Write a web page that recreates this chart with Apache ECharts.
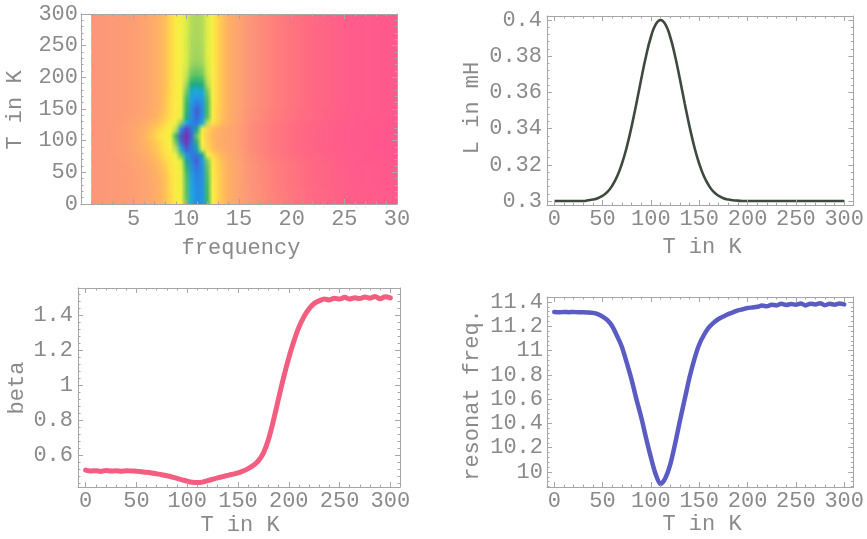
<!DOCTYPE html>
<html><head><meta charset="utf-8">
<script src="https://cdn.jsdelivr.net/npm/echarts@6/dist/echarts.min.js"></script>
<style>html,body{margin:0;padding:0;background:#fff}#c{width:867px;height:539px}</style>
</head><body><div id="c"></div>
<script>
// ---------------- DATA ----------------
const temps = [0,5,10,15,20,25,30,35,40,45,50,55,60,65,70,75,80,85,90,95,100,105,110,115,120,125,130,135,140,145,150,155,160,165,170,175,180,185,190,195,200,205,210,215,220,225,230,235,240,245,250,255,260,265,270,275,280,285,290,295,300];

const inductance = [0.3,0.3,0.3,0.3,0.3,0.3,0.3,0.3004,0.3008,0.3015,0.3029,0.305,0.3085,0.3135,0.3206,0.3298,0.3411,0.3539,0.3674,0.3801,0.3906,0.3976,0.4,0.3976,0.3906,0.3801,0.3674,0.3539,0.3411,0.3298,0.3206,0.3135,0.3085,0.305,0.3029,0.3015,0.3008,0.3004,0.3002,0.3,0.3,0.3,0.3,0.3,0.3,0.3,0.3,0.3,0.3,0.3,0.3,0.3,0.3,0.3,0.3,0.3,0.3,0.3,0.3,0.3,0.3];

const beta = [0.515,0.51,0.512,0.508,0.513,0.51,0.511,0.509,0.512,0.51,0.509,0.506,0.503,0.499,0.494,0.489,0.483,0.476,0.468,0.46,0.452,0.446,0.444,0.447,0.455,0.463,0.471,0.478,0.485,0.492,0.499,0.51,0.524,0.542,0.568,0.612,0.69,0.8,0.925,1.045,1.155,1.25,1.33,1.39,1.435,1.465,1.48,1.49,1.485,1.495,1.49,1.5,1.49,1.497,1.493,1.502,1.495,1.505,1.492,1.503,1.497];

const resonFreq = [11.318,11.315,11.318,11.316,11.318,11.315,11.316,11.314,11.31,11.30,11.28,11.25,11.20,11.12,11.03,10.90,10.76,10.60,10.45,10.28,10.12,9.98,9.90,9.95,10.06,10.23,10.42,10.60,10.78,10.93,11.05,11.13,11.19,11.23,11.26,11.28,11.30,11.315,11.33,11.34,11.35,11.355,11.36,11.37,11.365,11.378,11.372,11.385,11.375,11.383,11.378,11.388,11.372,11.386,11.38,11.39,11.374,11.385,11.378,11.388,11.38];

// density plot: rows = temperature, columns = frequency, value = hue angle (deg)
const heatFreq = [1,2,3,4,5,6,7,7.5,8,8.5,9,9.5,10,10.5,11,11.5,12,12.5,13,13.5,14,15,16,18,20,22,24,26,28,30];
const heatTemp = [0,10,20,30,40,50,60,70,80,90,100,110,120,130,140,150,160,170,180,190,200,210,220,230,240,250,260,270,280,290,300];
const heatHue = [
 [12,13,14,15,17,20, 25,29,35,46,55,60, 105,185,205,200,125, 58,44,35,28, 20,13,5,-2,-9,-15,-19,-21,-22],
 [12,13,14,15,17,20, 25,29,35,46,55,60, 108,188,207,202,122, 57,44,35,28, 20,13,5,-2,-9,-15,-19,-21,-22],
 [12,13,14,15,17,20, 25,29,35,46,55,61, 110,190,208,203,120, 57,44,35,28, 20,13,5,-2,-9,-15,-19,-21,-22],
 [12,13,14,15,17,20, 25,29,35,46,55,61, 110,192,210,204,118, 57,44,35,28, 20,12,4,-3,-10,-16,-20,-22,-23],
 [12,13,14,15,17,20, 26,30,36,47,56,62, 112,195,212,205,115, 56,44,35,28, 20,12,4,-3,-10,-16,-20,-22,-23],
 [12,13,14,15,17,21, 27,31,37,48,56,62, 115,198,215,205,112, 56,44,35,28, 20,12,4,-3,-10,-16,-20,-22,-23],
 [12,13,14,15,18,22, 28,33,40,50,57,64, 125,205,222,205,108, 55,43,34,27, 20,12,4,-3,-10,-16,-20,-22,-23],
 [12,13,14,16,19,23, 30,36,44,52,58,70, 145,212,235,200,100, 54,42,33,26, 19,11,3,-4,-11,-17,-21,-23,-24],
 [12,13,14,16,20,25, 33,40,48,55,62,105, 200,218,220,150,62, 46,36,30,25, 18,10,1,-6,-13,-18,-21,-23,-24],
 [12,13,15,17,21,27, 36,43,51,57,85,180, 238,218,160,65,45, 35,28,25,22, 17,9,0,-7,-14,-19,-22,-24,-25],
 [12,13,15,17,21,28, 38,45,53,60,105,225, 265,222,125,58,42, 33,27,24,22, 17,9,0,-7,-14,-19,-22,-24,-25],
 [12,13,15,18,22,29, 42,50,56,63,120,240, 270,228,105,55,40, 32,27,24,22, 17,9,0,-7,-14,-19,-22,-24,-25],
 [12,13,15,17,21,28, 38,46,52,58,80,205, 252,222,150,62,43, 34,28,25,22, 17,9,0,-7,-14,-19,-22,-24,-25],
 [12,13,14,16,20,25, 32,38,45,53,60,95, 190,212,218,185,82, 50,40,32,26, 18,10,1,-6,-13,-18,-21,-23,-24],
 [12,13,14,15,18,22, 28,33,40,48,55,65, 135,207,228,207,112, 56,43,34,27, 19,11,3,-4,-11,-17,-21,-23,-24],
 [12,13,14,15,17,21, 27,31,38,47,55,63, 125,207,236,208,115, 56,43,34,27, 19,11,3,-4,-11,-17,-20,-22,-23],
 [12,13,14,15,17,20, 26,30,37,47,55,62, 120,200,218,205,115, 56,44,35,28, 20,12,4,-3,-10,-16,-20,-22,-23],
 [12,13,14,15,17,20, 26,30,36,47,55,62, 115,195,202,196,110, 57,44,35,28, 20,12,4,-3,-10,-16,-20,-22,-23],
 [12,13,14,15,17,20, 26,30,36,46,55,61, 102,172,186,176,100, 57,44,35,28, 20,12,4,-3,-10,-16,-20,-22,-23],
 [12,13,14,15,17,20, 26,30,35,46,55,60, 90,138,146,136,86, 57,44,35,28, 20,12,4,-3,-10,-16,-20,-22,-23],
 [12,13,14,15,17,20, 26,30,35,45,55,60, 82,116,122,115,78, 57,44,35,28, 20,12,4,-3,-10,-16,-20,-22,-23],
 [12,13,14,15,17,20, 26,30,35,45,55,60, 76,102,106,100,73, 57,44,35,28, 20,12,4,-3,-10,-16,-20,-22,-23],
 [12,13,14,15,17,20, 26,30,35,45,55,60, 72,93,97,92,70, 57,44,35,28, 20,12,4,-3,-10,-16,-20,-22,-23],
 [12,13,14,15,17,20, 26,30,35,45,55,60, 70,88,91,88,68, 57,44,35,28, 20,12,4,-3,-10,-16,-20,-22,-23],
 [12,13,14,15,17,20, 26,30,35,45,55,60, 70,87,90,87,68, 57,44,35,28, 20,12,4,-3,-10,-16,-20,-22,-23],
 [12,13,14,15,17,20, 26,30,35,45,55,60, 70,86,89,86,68, 57,44,35,28, 20,12,4,-3,-10,-16,-20,-22,-23],
 [12,13,14,15,17,20, 26,30,35,45,55,60, 70,86,88,85,68, 57,44,35,28, 20,12,4,-3,-10,-16,-20,-22,-23],
 [12,13,14,15,17,20, 26,30,35,45,55,60, 69,85,88,85,67, 57,44,35,28, 20,12,4,-3,-10,-16,-20,-22,-23],
 [12,13,14,15,17,20, 26,30,35,45,55,60, 69,85,87,84,67, 57,44,35,28, 20,12,4,-3,-10,-16,-20,-22,-23],
 [12,13,14,15,17,20, 26,30,35,45,55,60, 69,84,87,84,67, 57,44,35,28, 20,12,4,-3,-10,-16,-20,-22,-23],
 [12,13,14,15,17,20, 26,30,35,45,55,60, 69,84,86,84,67, 57,44,35,28, 20,12,4,-3,-10,-16,-20,-22,-23]
];

// ---------------- STYLE ----------------
const TXT = '#8a8a8a';
const FRAME = '#a6a6a6';
const FONT = 'Liberation Mono';
const FS = 22;
const SHADE_STEPS = 6; // sub-strips used to shade between two rows
const HUE_PALETTE = [
 [-25,[255,86,142]],[-15,[255,98,134]],[-5,[255,112,128]],[5,[255,132,122]],[12,[252,150,120]],
 [20,[253,163,112]],[28,[255,176,100]],[38,[255,198,84]],[48,[255,222,72]],[58,[248,240,66]],
 [70,[215,236,72]],[85,[178,218,90]],[100,[122,204,96]],[120,[60,186,104]],[140,[26,170,130]],
 [165,[22,168,190]],[190,[30,168,226]],[210,[40,136,226]],[230,[62,100,214]],[250,[92,70,196]],[270,[122,48,168]]
];
function hueRGB(h){
  const P = HUE_PALETTE;
  if (h <= P[0][0]) return P[0][1];
  for (let i = 1; i < P.length; i++) {
    if (h <= P[i][0]) {
      const t = (h - P[i-1][0]) / (P[i][0] - P[i-1][0]);
      const a = P[i-1][1], b = P[i][1];
      return [0,1,2].map(k => a[k] + (b[k]-a[k])*t);
    }
  }
  return P[P.length-1][1];
}
function mixRGB(a, b, t){
  return 'rgb(' + [0,1,2].map(k => Math.round(a[k] + (b[k]-a[k])*t)).join(',') + ')';
}

function tickFmt(step, lo, hi, hideZero){
  return function(v){
    const k = v / step;
    if (Math.abs(k - Math.round(k)) > 1e-6) return '';
    if (v < lo - 1e-9 || v > hi + 1e-9) return '';
    if (hideZero && Math.abs(v) < 1e-9) return '';
    return String(parseFloat(v.toFixed(4)));
  };
}

function axis(grid, pos, min, max, step, labels, fmt, margin){
  return {
    type: 'value', gridIndex: grid, position: pos, min: min, max: max,
    minInterval: step, maxInterval: step, z: 10,
    axisLine: {show: true, onZero: false, lineStyle: {color: FRAME, width: 1}},
    axisTick: {show: true, inside: true, length: 5, lineStyle: {color: FRAME}},
    minorTick: {show: true, splitNumber: 5, length: 2.5, lineStyle: {color: FRAME}},
    splitLine: {show: false},
    axisLabel: {show: labels, color: TXT, fontFamily: FONT, fontSize: FS, margin: margin, formatter: fmt}
  };
}

const grids = [
  {left: 81, top: 14, width: 316, height: 190},
  {left: 547, top: 16, width: 307, height: 189},
  {left: 78, top: 288, width: 322, height: 199},
  {left: 547, top: 297, width: 308, height: 190}
];
const TMIN = -7.5, TMAX = 309.5;
const xAxes = [
  axis(0,'bottom',0,30,5,true,tickFmt(5,0,30,true),4), axis(0,'top',0,30,5,false,null,0),
  axis(1,'bottom',TMIN,TMAX,50,true,tickFmt(50,0,300,false),3), axis(1,'top',TMIN,TMAX,50,false,null,0),
  axis(2,'bottom',TMIN,TMAX,50,true,tickFmt(50,0,300,false),3), axis(2,'top',TMIN,TMAX,50,false,null,0),
  axis(3,'bottom',TMIN,TMAX,50,true,tickFmt(50,0,300,false),3), axis(3,'top',TMIN,TMAX,50,false,null,0)
];
const yAxes = [
  axis(0,'left',0,300,50,true,tickFmt(50,0,300,false),3), axis(0,'right',0,300,50,false,null,0),
  axis(1,'left',0.2978,0.4022,0.02,true,tickFmt(0.02,0.3,0.4,false),5), axis(1,'right',0.2978,0.4022,0.02,false,null,0),
  axis(2,'left',0.419,1.553,0.2,true,tickFmt(0.2,0.6,1.4,false),5), axis(2,'right',0.419,1.553,0.2,false,null,0),
  axis(3,'left',9.876,11.441,0.2,true,tickFmt(0.2,10,11.4,false),4), axis(3,'right',9.876,11.441,0.2,false,null,0)
];

// shading strips between consecutive rows: [fStart, tLow, fEnd, tHigh, rowIndex, mixFraction]
const heatStrips = [];
for (let i = 0; i < heatTemp.length - 1; i++) {
  const t0 = heatTemp[i], t1 = heatTemp[i+1];
  for (let s = 0; s < SHADE_STEPS; s++) {
    heatStrips.push([heatFreq[0], t0 + (t1 - t0) * s / SHADE_STEPS, heatFreq[heatFreq.length-1],
      t0 + (t1 - t0) * (s + 1) / SHADE_STEPS, i, (s + 0.5) / SHADE_STEPS]);
  }
}

function renderStrip(params, api){
  const p0 = api.coord([api.value(0), api.value(3)]);
  const p1 = api.coord([api.value(2), api.value(1)]);
  const i = api.value(4), frac = api.value(5);
  const rowA = heatHue[i], rowB = heatHue[i+1];
  const f0 = heatFreq[0], f1 = heatFreq[heatFreq.length-1];
  const stops = heatFreq.map(function(f, j){
    return {offset: (f - f0)/(f1 - f0), color: mixRGB(hueRGB(rowA[j]), hueRGB(rowB[j]), frac)};
  });
  const top = Math.floor(p0[1]), bottom = Math.ceil(p1[1]) + 1;
  return {
    type: 'rect',
    shape: {x: p0[0], y: top, width: p1[0] - p0[0], height: Math.min(bottom, Math.ceil(api.coord([0,0])[1])) - top},
    style: {fill: new echarts.graphic.LinearGradient(0, 0, 1, 0, stops)}
  };
}

function pairs(xs, ys){ return xs.map(function(x, i){ return [x, ys[i]]; }); }

function title(text, x, y, rot){
  return {type: 'text', x: x, y: y, rotation: rot ? Math.PI/2 : 0,
    style: {text: text, fill: TXT, font: FS + 'px "' + FONT + '"', align: 'center', verticalAlign: 'middle'}};
}

const chart = echarts.init(document.getElementById('c'), null, {renderer: 'canvas'});
chart.setOption({
  animation: false,
  backgroundColor: '#ffffff',
  grid: grids,
  xAxis: xAxes,
  yAxis: yAxes,
  series: [
    {type: 'custom', xAxisIndex: 0, yAxisIndex: 0, renderItem: renderStrip, data: heatStrips, z: 1, silent: true},
    {type: 'line', xAxisIndex: 2, yAxisIndex: 2, data: pairs(temps, inductance), showSymbol: false, smooth: true,
      lineStyle: {color: '#3d4a3d', width: 2.6}},
    {type: 'line', xAxisIndex: 4, yAxisIndex: 4, data: pairs(temps, beta), showSymbol: false, smooth: 0.3,
      lineStyle: {color: '#f25d80', width: 5, cap: 'round', join: 'round'}},
    {type: 'line', xAxisIndex: 6, yAxisIndex: 6, data: pairs(temps, resonFreq), showSymbol: false, smooth: 0.3,
      lineStyle: {color: '#5b5bc4', width: 4.5, cap: 'round', join: 'round'}}
  ],
  graphic: [
    title('T in K', 15, 110, true),
    title('frequency', 241, 248, false),
    title('L in mH', 472, 108, true),
    title('T in K', 702, 247, false),
    title('beta', 17, 388, true),
    title('T in K', 240, 525, false),
    title('resonat freq.', 472, 395, true),
    title('T in K', 702, 524, false)
  ]
});
</script>
</body></html>
